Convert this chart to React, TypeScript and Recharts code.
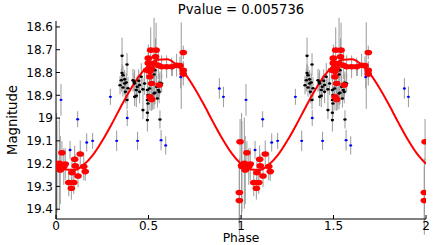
import React from "react";
import { ComposedChart, Line, Scatter, ErrorBar, XAxis, YAxis } from "recharts";

// one folded cycle: [phase, magnitude, error]; every point is drawn again at phase + 1
const blackPts: [number, number, number][] = [
  [0.357, 18.727, 0.08], [0.384, 18.765, 0.05], [0.357, 18.802, 0.04], [0.362, 18.812, 0.04],
  [0.353, 18.834, 0.05], [0.371, 18.83, 0.04], [0.371, 18.848, 0.05], [0.362, 18.866, 0.04],
  [0.38, 18.844, 0.04], [0.375, 18.885, 0.05], [0.384, 18.921, 0.04], [0.346, 18.856, 0.04],
  [0.389, 18.869, 0.05], [0.416, 18.834, 0.05], [0.422, 18.841, 0.04], [0.425, 18.848, 0.06],
  [0.439, 18.863, 0.05], [0.434, 18.877, 0.04], [0.447, 18.836, 0.05], [0.452, 18.855, 0.04],
  [0.452, 18.885, 0.05], [0.461, 18.819, 0.06], [0.425, 18.907, 0.04], [0.434, 18.902, 0.05],
  [0.494, 18.877, 0.05], [0.497, 18.899, 0.04], [0.494, 18.921, 0.05], [0.497, 18.936, 0.06],
  [0.506, 18.87, 0.04], [0.479, 18.848, 0.05], [0.47, 18.874, 0.05], [0.47, 18.965, 0.04],
  [0.494, 18.977, 0.04], [0.494, 19.009, 0.05], [0.53, 18.892, 0.05], [0.535, 18.79, 0.05],
  [0.53, 18.809, 0.04], [0.562, 18.845, 0.05], [0.571, 18.848, 0.04], [0.544, 18.863, 0.05],
  [0.553, 18.877, 0.04], [0.535, 18.889, 0.05], [0.558, 18.885, 0.05], [0.548, 18.914, 0.04],
  [0.523, 18.914, 0.05], [0.562, 19.006, 0.04],
];

const bluePts: [number, number, number][] = [
  [0.027, 18.92, 0.07], [0.076, 19.14, 0.04], [0.117, 19.005, 0.035], [0.166, 19.107, 0.04],
  [0.198, 19.1, 0.035], [0.294, 18.907, 0.035], [0.328, 19.1, 0.045], [0.385, 19.0, 0.035],
  [0.441, 19.1, 0.04], [0.568, 19.097, 0.045], [0.593, 19.12, 0.04], [0.629, 18.78, 0.035],
  [0.674, 18.82, 0.05], [0.677, 18.77, 0.19], [0.883, 18.87, 0.045], [0.905, 18.907, 0.045],
];

const redPts: [number, number, number][] = [
  [0.512, 18.702, 0.1], [0.541, 18.702, 0.12], [0.499, 18.737, 0.06], [0.538, 18.731, 0.08],
  [0.499, 18.759, 0.05], [0.53, 18.76, 0.2], [0.515, 18.782, 0.05], [0.553, 18.768, 0.06],
  [0.571, 18.775, 0.05], [0.598, 18.775, 0.05], [0.625, 18.775, 0.04], [0.652, 18.768, 0.05],
  [0.67, 18.77, 0.04], [0.688, 18.79, 0.04], [0.688, 18.807, 0.05], [0.688, 18.712, 0.03],
  [0.508, 18.794, 0.05], [0.508, 18.819, 0.05], [0.517, 18.848, 0.06], [0.558, 18.855, 0.05],
  [0.508, 18.907, 0.06], [0.517, 18.918, 0.05], [0.49, 18.79, 0.04],
  [0.003, 19.208, 0.23], [0.005, 19.213, 0.2], [0.018, 19.198, 0.2], [0.023, 19.228, 0.15],
  [0.032, 19.152, 0.05], [0.042, 19.213, 0.08], [0.05, 19.202, 0.07], [0.101, 19.181, 0.06],
  [0.131, 19.158, 0.06], [0.104, 19.21, 0.05], [0.15, 19.213, 0.06], [0.158, 19.235, 0.04],
  [0.086, 19.24, 0.05], [0.119, 19.254, 0.05], [0.069, 19.283, 0.06], [0.096, 19.283, 0.05],
  [0.083, 19.308, 0.05], [0.995, 19.104, 0.1], [0.991, 19.327, 0.15], [0.991, 19.362, 0.15],
];

// fitted model at steps of 0.05 in phase
const curvePhase = [0, 0.05, 0.1, 0.15, 0.2, 0.25, 0.3, 0.35, 0.4, 0.45, 0.5, 0.55, 0.6, 0.65, 0.7, 0.75, 0.8, 0.85, 0.9, 0.95, 1];
const curveMag = [19.201, 19.226, 19.228, 19.205, 19.162, 19.1, 19.028, 18.951, 18.878, 18.815, 18.769, 18.744, 18.742, 18.765, 18.808, 18.87, 18.942, 19.019, 19.092, 19.155, 19.201];

const xTicks = [0, 0.5, 1, 1.5, 2];
const yTicks = [18.6, 18.7, 18.8, 18.9, 19, 19.1, 19.2, 19.3, 19.4];

const fold = (pts: [number, number, number][]) =>
  pts.flatMap(([p, m, e]) => [
    { phase: p, mag: m, err: e },
    { phase: p + 1, mag: m, err: e },
  ]);

const curveData = [0, 1].flatMap((k) =>
  curvePhase
    .map((p, i) => ({ phase: p + k, mag: curveMag[i] }))
    .filter((d) => k === 0 || d.phase > 1)
);

const FONT = "'DejaVu Sans', sans-serif";
const tickStyle = { fill: "#000", fontSize: 12, fontFamily: FONT };

const marker = (color: string, rx: number, ry: number) => (props: any) =>
  props.cx == null ? <g /> : <ellipse cx={props.cx} cy={props.cy} rx={rx} ry={ry} fill={color} />;

export default function App() {
  return (
    <div style={{ position: "absolute", left: 0, top: 0, width: 436, height: 245, background: "#fff" }}>
      <ComposedChart width={436} height={245} margin={{ top: 21, right: 10, bottom: 0, left: 0 }}>
        <XAxis
          xAxisId="b"
          dataKey="phase"
          type="number"
          domain={[0, 2]}
          ticks={xTicks}
          allowDataOverflow
          height={26}
          tickSize={-4}
          tickMargin={6}
          tick={tickStyle}
          axisLine={{ stroke: "#000" }}
          tickLine={{ stroke: "#000" }}
        />
        <XAxis
          xAxisId="t"
          orientation="top"
          type="number"
          domain={[0, 2]}
          ticks={xTicks}
          allowDataOverflow
          height={0}
          tickSize={-4}
          tick={false}
          axisLine={{ stroke: "#000" }}
          tickLine={{ stroke: "#000" }}
        />
        <YAxis
          yAxisId="l"
          dataKey="mag"
          type="number"
          reversed
          domain={[18.574, 19.443]}
          ticks={yTicks}
          allowDataOverflow
          width={56}
          tickSize={-4}
          tickMargin={7}
          tick={tickStyle}
          axisLine={{ stroke: "#000" }}
          tickLine={{ stroke: "#000" }}
        />
        <YAxis
          yAxisId="r"
          orientation="right"
          type="number"
          reversed
          domain={[18.574, 19.443]}
          ticks={yTicks}
          allowDataOverflow
          width={0}
          tickSize={-4}
          tick={false}
          axisLine={{ stroke: "#000" }}
          tickLine={{ stroke: "#000" }}
        />
        <Scatter xAxisId="b" yAxisId="l" data={fold(blackPts)} dataKey="mag" shape={marker("#000", 1.7, 1.3)} isAnimationActive={false}>
          <ErrorBar dataKey="err" direction="y" width={0} stroke="#9a9a9a" strokeWidth={1} />
        </Scatter>
        <Scatter xAxisId="b" yAxisId="l" data={fold(bluePts)} dataKey="mag" shape={marker("#0000ff", 1.5, 1.2)} isAnimationActive={false}>
          <ErrorBar dataKey="err" direction="y" width={0} stroke="#9a9a9a" strokeWidth={1} />
        </Scatter>
        <Scatter xAxisId="b" yAxisId="l" data={fold(redPts)} dataKey="mag" shape={marker("#ff0000", 3.8, 2.8)} isAnimationActive={false}>
          <ErrorBar dataKey="err" direction="y" width={0} stroke="#9a9a9a" strokeWidth={1} />
        </Scatter>
        <Line
          xAxisId="b"
          yAxisId="l"
          data={curveData}
          dataKey="mag"
          type="monotone"
          stroke="#ff0000"
          strokeWidth={2}
          dot={false}
          activeDot={false}
          isAnimationActive={false}
        />
      </ComposedChart>
      <svg width={436} height={245} style={{ position: "absolute", left: 0, top: 0, pointerEvents: "none" }}>
        <text x={241} y={13.5} textAnchor="middle" fontFamily={FONT} fontSize={13.2} fill="#000">
          Pvalue = 0.005736
        </text>
        <text x={241} y={242} textAnchor="middle" fontFamily={FONT} fontSize={12.3} fill="#000">
          Phase
        </text>
        <text x={17} y={120} textAnchor="middle" fontFamily={FONT} fontSize={13.2} fill="#000" transform="rotate(-90 17 120)">
          Magnitude
        </text>
      </svg>
    </div>
  );
}
